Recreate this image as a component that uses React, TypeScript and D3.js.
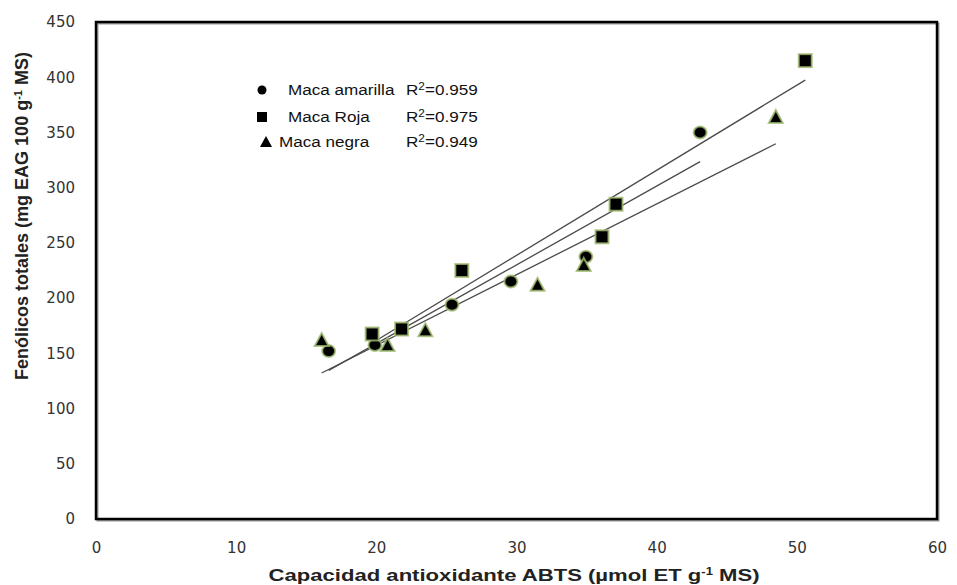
import React, { useEffect, useRef } from "react";
import * as d3 from "d3";

// --- data ---
const amarillaX = [16.6, 19.9, 25.4, 29.6, 34.95, 43.1];
const amarillaY = [152, 157.5, 194, 215, 237.5, 350];
const rojaX = [19.7, 21.8, 26.1, 36.1, 37.1, 50.6];
const rojaY = [167.5, 172, 225, 255.5, 285, 415];
const negraX = [16.1, 20.8, 23.5, 31.5, 34.8, 48.5];
const negraY = [162, 157.5, 171, 212, 230, 364];

const seriesNames = ["Maca amarilla", "Maca Roja", "Maca negra"];
const r2Labels = ["0.959", "0.975", "0.949"];
const xTicks = [0, 10, 20, 30, 40, 50, 60];
const yTicks = [0, 50, 100, 150, 200, 250, 300, 350, 400, 450];

const W = 957;
const H = 585;

// least squares fit, used for the trend lines
function fit(xs: number[], ys: number[]) {
  const mx = d3.mean(xs)!;
  const my = d3.mean(ys)!;
  const sxy = d3.sum(xs, (x, i) => (x - mx) * (ys[i] - my));
  const sxx = d3.sum(xs, (x) => (x - mx) ** 2);
  const b = sxy / sxx;
  return { b, a: my - b * mx };
}

export default function App() {
  const svgRef = useRef<SVGSVGElement>(null);

  useEffect(() => {
    const svg = d3.select(svgRef.current);
    svg.selectAll("*").remove();

    const x = d3.scaleLinear().domain([0, 60]).range([96, 937]);
    const y = d3.scaleLinear().domain([0, 450]).range([519, 22]);

    const series = [
      { name: seriesNames[0], xs: amarillaX, ys: amarillaY, shape: "circle" },
      { name: seriesNames[1], xs: rojaX, ys: rojaY, shape: "square" },
      { name: seriesNames[2], xs: negraX, ys: negraY, shape: "triangle" },
    ];

    const tickFont = "'DejaVu Sans', sans-serif";
    const sans = "'Liberation Sans', Arial, sans-serif";

    // --- AXIS TICK LABELS ---
    svg
      .append("g")
      .attr("transform", `translate(0,${y(0) + 23})`)
      .call(d3.axisBottom(x).tickValues(xTicks).tickSize(0).tickPadding(0))
      .call((g) => g.select(".domain").remove())
      .selectAll("text")
      .attr("dy", "0.71em")
      .style("font-family", tickFont)
      .style("font-size", "15px")
      .style("fill", "#333");

    svg
      .append("g")
      .attr("transform", `translate(${x(0) - 21},0)`)
      .call(d3.axisLeft(y).tickValues(yTicks).tickSize(0).tickPadding(0))
      .call((g) => g.select(".domain").remove())
      .selectAll("text")
      .style("font-family", tickFont)
      .style("font-size", "15px")
      .style("fill", "#333");

    // --- FRAME ---
    svg
      .append("rect")
      .attr("x", x(0) + 1.5)
      .attr("y", y(450) + 1.5)
      .attr("width", x(60) - x(0))
      .attr("height", y(0) - y(450))
      .attr("fill", "none")
      .attr("stroke", "#999")
      .attr("stroke-width", 2);
    svg
      .append("rect")
      .attr("x", x(0))
      .attr("y", y(450))
      .attr("width", x(60) - x(0))
      .attr("height", y(0) - y(450))
      .attr("fill", "none")
      .attr("stroke", "#000")
      .attr("stroke-width", 2.5);

    // --- TREND LINES ---
    series.forEach((s) => {
      const { a, b } = fit(s.xs, s.ys);
      const [x0, x1] = d3.extent(s.xs) as [number, number];
      svg
        .append("line")
        .attr("x1", x(x0))
        .attr("y1", y(a + b * x0))
        .attr("x2", x(x1))
        .attr("y2", y(a + b * x1))
        .attr("stroke", "#4a4a4a")
        .attr("stroke-width", 1.3);
    });

    const drawMarker = (g: any, shape: string, cx: number, cy: number) => {
      let m;
      if (shape === "circle") {
        m = g.append("ellipse").attr("cx", cx).attr("cy", cy).attr("rx", 6.5).attr("ry", 6);
      } else if (shape === "square") {
        m = g.append("rect").attr("x", cx - 6.5).attr("y", cy - 6.5).attr("width", 13).attr("height", 13);
      } else {
        m = g.append("path").attr("d", `M${cx},${cy - 7}L${cx + 7},${cy + 6}L${cx - 7},${cy + 6}Z`);
      }
      m.attr("fill", "#000").attr("stroke", "#a3bd73").attr("stroke-width", 2).attr("stroke-opacity", 0.8);
    };

    // --- POINTS ---
    const pts = svg.append("g");
    series.forEach((s) => {
      s.xs.forEach((v, i) => drawMarker(pts, s.shape, x(v), y(s.ys[i])));
    });

    // --- LEGEND ---
    const leg = svg.append("g").style("font-family", sans).style("font-size", "14.5px");
    const rows = [90, 117, 142];
    const stretch = 1.18;
    series.forEach((s, i) => {
      const cy = rows[i];
      if (s.shape === "triangle") {
        leg.append("path").attr("d", `M266,${cy - 6}L272,${cy + 5}L260,${cy + 5}Z`).attr("fill", "#000");
      } else if (s.shape === "circle") {
        leg.append("circle").attr("cx", 262).attr("cy", cy).attr("r", 4.5).attr("fill", "#000");
      } else {
        leg.append("rect").attr("x", 257).attr("y", cy - 5).attr("width", 10).attr("height", 10).attr("fill", "#000");
      }
      leg
        .append("text")
        .attr("transform", `translate(${s.shape === "triangle" ? 279 : 288},${cy}) scale(${stretch},1)`)
        .attr("dy", "0.35em")
        .attr("fill", "#111")
        .text(s.name);
      const t = leg
        .append("text")
        .attr("transform", `translate(406,${cy}) scale(${stretch},1)`)
        .attr("dy", "0.35em")
        .attr("fill", "#111");
      t.append("tspan").text("R");
      t.append("tspan").attr("dy", -5).style("font-size", "10px").text("2");
      t.append("tspan").attr("dy", 5).text("=" + r2Labels[i]);
    });

    // --- AXIS TITLES ---
    const xt = svg
      .append("text")
      .attr("transform", "translate(514,581) scale(1.3,1)")
      .attr("text-anchor", "middle")
      .style("font-family", sans)
      .style("font-size", "17px")
      .style("font-weight", "bold")
      .attr("fill", "#222");
    xt.append("tspan").text("Capacidad antioxidante ABTS (µmol ET g");
    xt.append("tspan").attr("dy", -6).style("font-size", "10px").text("-1");
    xt.append("tspan").attr("dy", 6).text(" MS)");

    const yt = svg
      .append("text")
      .attr("transform", "translate(28,216) rotate(-90)")
      .attr("text-anchor", "middle")
      .style("font-family", sans)
      .style("font-size", "18px")
      .style("font-weight", "bold")
      .attr("fill", "#222");
    yt.append("tspan").text("Fenólicos totales (mg EAG 100 g");
    yt.append("tspan").attr("dy", -6).style("font-size", "11px").text("-1");
    yt.append("tspan").attr("dy", 6).text(" MS)");
  }, []);

  return (
    <svg
      ref={svgRef}
      width={W}
      height={H}
      style={{ position: "absolute", left: 0, top: 0, background: "#fff" }}
    ></svg>
  );
}
